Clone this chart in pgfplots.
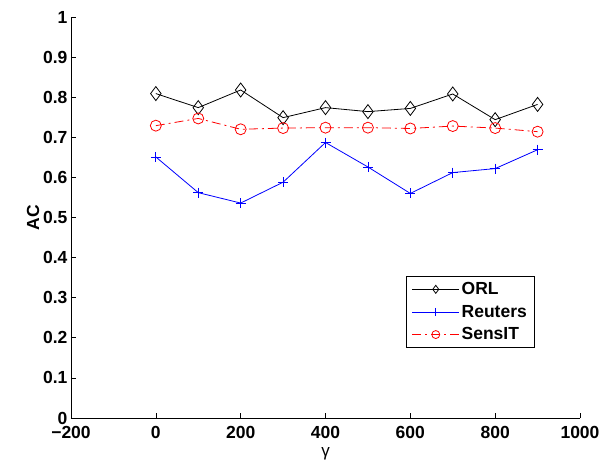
\documentclass[border=0pt]{standalone}
\usepackage{fontspec}
\setmainfont{Liberation Sans}
\usepackage{pgfplots}
\pgfplotsset{compat=1.18}
\begin{document}
\begin{tikzpicture}
\begin{axis}[
  scale only axis,
  width=509pt, height=401pt,
  xmin=-200, xmax=1000, ymin=0, ymax=1,
  xtick={-200,0,200,...,1000},
  ytick={0,0.1,...,1},
  yticklabels={0,0.1,0.2,0.3,0.4,0.5,0.6,0.7,0.8,0.9,1},
  xticklabels={\textminus200,0,200,400,600,800,1000},
  axis x line=bottom, axis y line=left,
  axis line style={-, line width=0.8pt},
  tick align=inside,
  major tick length=5pt,
  tick style={line width=0.6pt, black},
  ticklabel style={font=\fontsize{17.5}{19}\selectfont\bfseries},
  xticklabel style={yshift=-5pt},
  /pgf/number format/assume math mode=true,
  xlabel={\fontsize{17}{19}\selectfont γ},
  ylabel={\fontsize{17.5}{19}\selectfont\bfseries AC},
  xlabel style={yshift=-2pt},
  ylabel style={yshift=-3pt},
  legend style={at={(0.912,0.175)}, anchor=south east, font=\fontsize{17.5}{19}\selectfont\bfseries, draw=black, line width=0.8pt, inner xsep=6pt, inner ysep=4pt, row sep=5pt},
  legend cell align=left,
  legend image post style={line width=0.8pt},
  legend image code/.code={\draw[#1] (0cm,0cm) -- (1.65cm,0cm); \draw[#1,solid,mark size=4pt] plot coordinates {(0.825cm,0cm)};},
  clip=false,
]
\addplot[black, line width=0.8pt, mark=diamond, mark size=7pt, mark options={solid, line width=0.8pt}] coordinates {
(0,0.809) (100,0.774) (200,0.818) (300,0.749) (400,0.774) (500,0.764) (600,0.772) (700,0.808) (800,0.744) (900,0.782)};
\addlegendentry{ORL}
\addplot[color=blue, line width=0.8pt, mark=+, mark size=5pt, mark options={solid, line width=0.8pt}] coordinates {
(0,0.651) (100,0.562) (200,0.536) (300,0.588) (400,0.687) (500,0.626) (600,0.560) (700,0.612) (800,0.622) (900,0.669)};
\addlegendentry{Reuters}
\addplot[color=red, line width=0.8pt, dash pattern=on 9pt off 4pt on 2pt off 4pt, mark=o, mark size=5.5pt, mark options={solid, line width=0.8pt}] coordinates {
(0,0.729) (100,0.747) (200,0.720) (300,0.723) (400,0.724) (500,0.724) (600,0.722) (700,0.728) (800,0.723) (900,0.714)};
\addlegendentry{SensIT}
\end{axis}
\pgfresetboundingbox
\path (current axis.south west) ++(-71pt,-45pt) coordinate (bl);
\path (current axis.north east) ++(22pt,17pt) coordinate (tr);
\path[use as bounding box] (bl) rectangle (tr);
\end{tikzpicture}
\end{document}
